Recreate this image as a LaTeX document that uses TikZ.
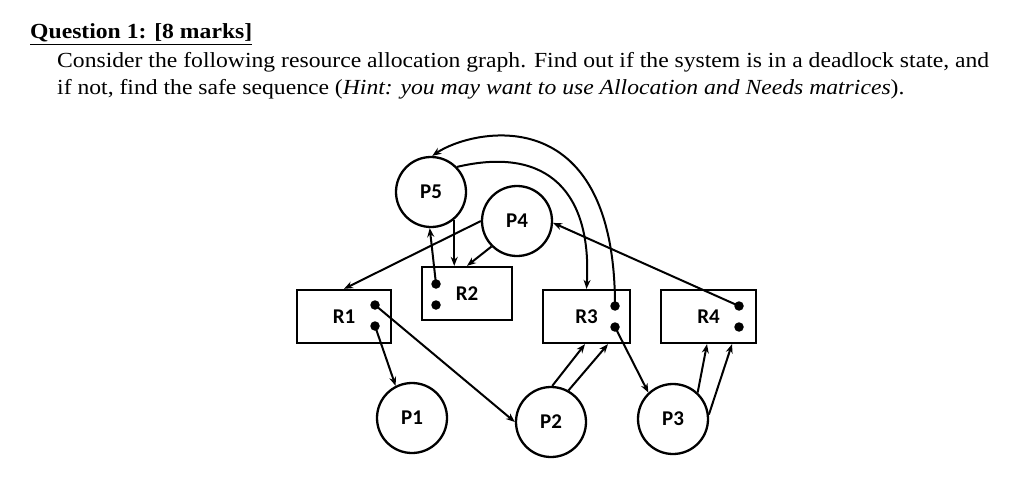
\documentclass[tikz,border=0pt]{standalone}
\usepackage{fontspec}
\setmainfont{Liberation Serif}[FakeStretch=1.1]
\newfontfamily\labelfont{Carlito}
\usetikzlibrary{arrows.meta,calc}
\begin{document}
\begin{tikzpicture}[x=1pt,y=-1pt,
  proc/.style={draw,circle,line width=2.3pt,minimum size=70pt,inner sep=0pt,font=\labelfont\bfseries\fontsize{21}{24}\selectfont},
  res/.style={draw,rectangle,line width=2.3pt,minimum height=53pt,inner sep=0pt,font=\labelfont\bfseries\fontsize{21}{24}\selectfont},
  dot/.style={circle,fill=black,inner sep=0pt,minimum size=9.5pt},
  arr/.style={line width=2pt,-{Stealth[length=9pt,width=7pt]}},
  txt/.style={anchor=base west,inner sep=0pt,font=\fontsize{21.5}{24}\selectfont}]
\useasboundingbox (0,0) rectangle (1024,503);
% header text
\node[txt] (title) at (30,39) {\underline{\textbf{Question 1: [8 marks]}}};
\node[txt] (line1) at (57,67) {Consider the following resource allocation graph. Find out if the system is in a deadlock state, and};
\node[txt] (line2) at (57,94) {if not, find the safe sequence (\textit{Hint: you may want to use Allocation and Needs matrices}).};
% processes
\node[proc] (P5) at (431,192) {P5};
\node[proc] (P4) at (517,221) {P4};
\node[proc] (P1) at (412,418) {P1};
\node[proc] (P2) at (551,422) {P2};
\node[proc] (P3) at (673,419) {P3};
% resources
\node[res,minimum width=94pt] (R1) at (344,316.5) {R1};
\node[res,minimum width=90pt] (R2) at (467,293.5) {R2};
\node[res,minimum width=87pt] (R3) at (586.5,316.5) {R3};
\node[res,minimum width=95pt] (R4) at (708.5,316.5) {R4};
% instance dots
\node[dot] (r1a) at (375,305) {};
\node[dot] (r1b) at (375,326) {};
\node[dot] (r2a) at (436,284) {};
\node[dot] (r2b) at (436,305) {};
\node[dot] (r3a) at (615,306) {};
\node[dot] (r3b) at (615,327) {};
\node[dot] (r4a) at (739,306) {};
\node[dot] (r4b) at (739,327) {};
% edges
\draw[arr] (r1a.center) -- (P2.180);
\draw[arr] (r1b.center) -- (P1.117);
\draw[arr] (P4.180) -- (R1.north);
\draw[arr] (P4.225) -- (R2.north);
\draw[arr] (P5.310) -- (P5.310 |- R2.north);
\draw[arr] (r2a.center) -- (P5.268);
\draw[arr] (P5.44) .. controls (550,145) and (592,195) .. (R3.north);
\draw[arr] (r3a.center) .. controls (615,95) and (470,130) .. (P5.88);
\draw[arr] (r4a.center) -- (P4.357);
\draw[arr] (r3b.center) -- (P3.133);
\draw[arr] (P2.88) -- ($(R3.south)+(-1.5,0)$);
\draw[arr] (P2.61) -- ($(R3.south)+(21.5,0)$);
\draw[arr] (P3.47) -- ($(R4.south)+(-1.5,0)$);
\draw[arr] (P3.7) -- ($(R4.south)+(23.5,0)$);
\end{tikzpicture}
\end{document}
